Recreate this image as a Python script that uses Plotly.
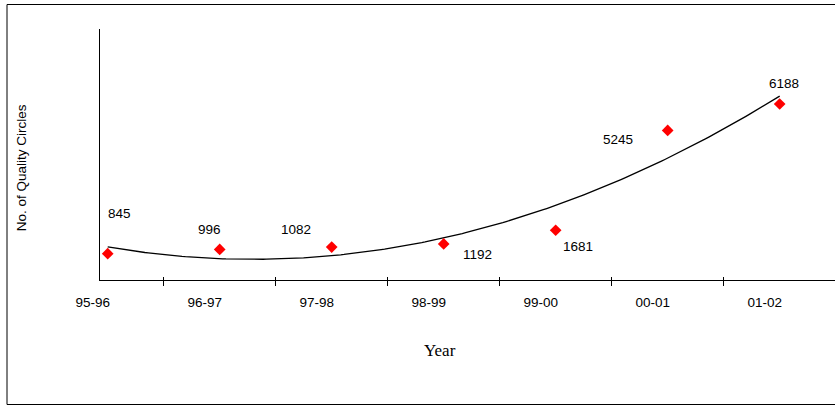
import numpy as np
import plotly.graph_objects as go

# Number of quality circles per financial year
years = ["95-96", "96-97", "97-98", "98-99", "99-00", "00-01", "01-02"]
circles = [845, 996, 1082, 1192, 1681, 5245, 6188]

# Label offsets (pixels) for each value label
label_dx = [12, -10, -36, 34, 22, -50, 4]
label_dy = [40, 20, 18, -11, -16, -9, 21]

W, H = 835, 406
L, R, T, B = 100, 0, 29, 126
FONT = "Liberation Sans, Arial, sans-serif"

idx = np.arange(len(years))

# Second-order polynomial trend through the yearly counts
coef = np.polyfit(idx, circles, 2)
tx = np.linspace(0, len(years) - 1, 200)
ty = np.polyval(coef, tx)

fig = go.Figure()
fig.add_trace(go.Scatter(
    x=tx, y=ty, mode="lines",
    line=dict(color="black", width=1.3),
    hoverinfo="skip", showlegend=False,
))
fig.add_trace(go.Scatter(
    x=idx, y=circles, mode="markers",
    marker=dict(symbol="diamond", size=9, color="#ff0000",
                line=dict(width=0)),
    showlegend=False,
))

for i, v in enumerate(circles):
    fig.add_annotation(
        x=i, y=v, xref="x", yref="y", text=str(v), showarrow=False,
        xshift=label_dx[i], yshift=label_dy[i],
        font=dict(family=FONT, size=13.5, color="black"),
    )

boundaries = [i + 0.5 for i in range(len(years) - 1)]

fig.update_layout(
    width=W, height=H,
    margin=dict(l=L, r=R, t=T, b=B, pad=0),
    paper_bgcolor="white", plot_bgcolor="white",
    font=dict(family=FONT, size=13.5, color="black"),
    xaxis=dict(
        range=[-0.0688, 6.494],
        tickmode="array", tickvals=list(idx), ticktext=years,
        ticks="", ticklabelshift=-15, ticklabelstandoff=10,
        tickfont=dict(family=FONT, size=13.5, color="black"),
        minor=dict(tickmode="array", tickvals=boundaries,
                   ticks="outside", ticklen=5, tickwidth=1,
                   tickcolor="black"),
        showline=True, linecolor="black", linewidth=1,
        showgrid=False, zeroline=False, fixedrange=True,
    ),
    xaxis2=dict(
        overlaying="x", matches="x", side="bottom",
        tickmode="array", tickvals=boundaries, showticklabels=False,
        ticks="inside", ticklen=3, tickwidth=1, tickcolor="black",
        showline=False, showgrid=False, zeroline=False,
    ),
    yaxis=dict(
        range=[-94, 8865],
        showticklabels=False, ticks="",
        showline=True, linecolor="black", linewidth=1,
        showgrid=False, zeroline=False, fixedrange=True,
    ),
)

# empty trace so the inner tick axis is rendered
fig.add_trace(go.Scatter(x=[None], y=[None], xaxis="x2",
                         showlegend=False, hoverinfo="skip"))

pw = W - L - R
ph = H - T - B

def px_x(p):
    return (p - L) / pw

def px_y(p):
    return 1 - (p - T) / ph

# axis titles
fig.add_annotation(
    x=px_x(21.7), y=px_y(167.5), xref="paper", yref="paper",
    text="No. of Quality Circles", textangle=-90, showarrow=False,
    font=dict(family=FONT, size=13.5, color="black"),
    xanchor="center", yanchor="middle",
)
fig.add_annotation(
    x=px_x(440.3), y=px_y(350), xref="paper", yref="paper",
    text="Year", showarrow=False,
    font=dict(family="Liberation Serif, Times New Roman, serif", size=17,
              color="black"),
    xanchor="center", yanchor="middle",
)

# frame around the chart
fig.add_shape(
    type="rect", xref="paper", yref="paper",
    x0=px_x(7), x1=px_x(W + 20), y0=px_y(404.5), y1=px_y(4.5),
    line=dict(color="black", width=1), fillcolor="rgba(0,0,0,0)",
    layer="below",
)

fig.write_html("out.html")
